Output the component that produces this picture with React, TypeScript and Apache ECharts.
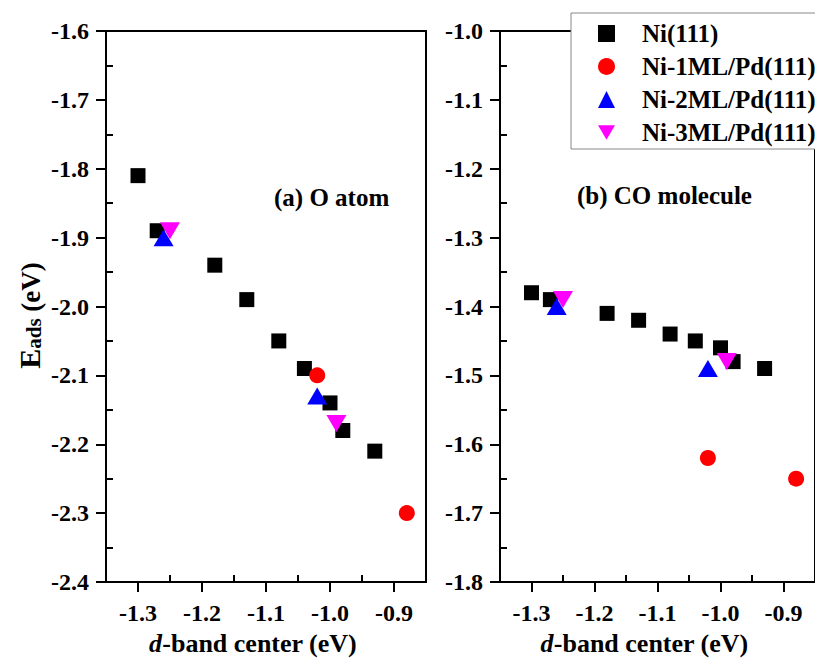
import React, { useEffect, useRef } from 'react';
import * as echarts from 'echarts';

// ---- data ----
const seriesNames = ['Ni(111)', 'Ni-1ML/Pd(111)', 'Ni-2ML/Pd(111)', 'Ni-3ML/Pd(111)'];

const ni111X = [-1.30, -1.27, -1.18, -1.13, -1.08, -1.04, -1.00, -0.98, -0.93];
const ni111O = [-1.81, -1.89, -1.94, -1.99, -2.05, -2.09, -2.14, -2.18, -2.21];
const ni111CO = [-1.38, -1.39, -1.41, -1.42, -1.44, -1.45, -1.46, -1.48, -1.49];

const ml1X = [-1.02, -0.88];
const ml1O = [-2.10, -2.30];
const ml1CO = [-1.62, -1.65];

const ml2X = [-1.26, -1.02];
const ml2O = [-1.90, -2.13];
const ml2CO = [-1.40, -1.49];

const ml3X = [-1.25, -0.99];
const ml3O = [-1.89, -2.17];
const ml3CO = [-1.39, -1.48];

const xTicks = [-1.3, -1.2, -1.1, -1.0, -0.9];
const xMinorTicks = [-1.25, -1.15, -1.05, -0.95];
const yTicksO = [-2.4, -2.3, -2.2, -2.1, -2.0, -1.9, -1.8, -1.7, -1.6];
const yMinorO = [-2.35, -2.25, -2.15, -2.05, -1.95, -1.85, -1.75, -1.65];
const yTicksCO = [-1.8, -1.7, -1.6, -1.5, -1.4, -1.3, -1.2, -1.1, -1.0];
const yMinorCO = [-1.75, -1.65, -1.55, -1.45, -1.35, -1.25, -1.15, -1.05];

const panelLabels = ['(a) O atom', '(b) CO molecule'];

const FONT = 'Liberation Serif';
const zip = (xs: number[], ys: number[]) => xs.map((x, i) => [x, ys[i]]);

const lineStyle = { color: '#000', width: 2 };
const labelStyle = {
  color: '#000',
  fontFamily: FONT,
  fontWeight: 'bold' as const,
  fontSize: 24,
};

function xAxes(grid: number) {
  return [
    {
      type: 'value',
      gridIndex: grid,
      position: 'bottom',
      min: -1.35,
      max: -0.85,
      axisLine: { show: true, onZero: false, lineStyle },
      axisTick: { show: true, inside: false, length: 10, customValues: xTicks, lineStyle },
      axisLabel: {
        show: true,
        customValues: xTicks,
        formatter: (v: number) => v.toFixed(1),
        margin: 19,
        ...labelStyle,
      },
      splitLine: { show: false },
      name: '{i|d}{n|-band center (eV)}',
      nameLocation: 'middle',
      nameGap: 48,
      nameTextStyle: {
        fontFamily: FONT,
        fontWeight: 'bold',
        fontSize: 26,
        padding: [0, 26, 0, 0],
        rich: {
          i: { fontFamily: FONT, fontWeight: 'bold', fontStyle: 'italic', fontSize: 26, color: '#000' },
          n: { fontFamily: FONT, fontWeight: 'bold', fontSize: 26, color: '#000' },
        },
      },
    },
    {
      type: 'value',
      gridIndex: grid,
      position: 'bottom',
      min: -1.35,
      max: -0.85,
      axisLine: { show: false, onZero: false },
      axisTick: { show: true, inside: true, length: 7, customValues: xMinorTicks, lineStyle },
      axisLabel: { show: false },
      splitLine: { show: false },
    },
  ];
}

function yAxes(grid: number, min: number, max: number, ticks: number[], minor: number[], withName: boolean) {
  return [
    {
      type: 'value',
      gridIndex: grid,
      position: 'left',
      min,
      max,
      axisLine: { show: true, onZero: false, lineStyle },
      axisTick: { show: true, inside: false, length: 10, customValues: ticks, lineStyle },
      axisLabel: {
        show: true,
        customValues: ticks,
        formatter: (v: number) => v.toFixed(1),
        margin: 17,
        ...labelStyle,
      },
      splitLine: { show: false },
      ...(withName
        ? {
            name: '{e|E}{s|ads}{n| (eV)}',
            nameLocation: 'middle',
            nameRotate: 90,
            nameGap: 62,
            nameTextStyle: {
              fontFamily: FONT,
              fontWeight: 'bold',
              padding: [0, 18, 0, 0],
              rich: {
                e: { fontFamily: FONT, fontWeight: 'bold', fontSize: 30, lineHeight: 30, verticalAlign: 'bottom', color: '#000' },
                s: { fontFamily: FONT, fontWeight: 'bold', fontSize: 21, lineHeight: 12, verticalAlign: 'bottom', color: '#000' },
                n: { fontFamily: FONT, fontWeight: 'bold', fontSize: 27, lineHeight: 27, verticalAlign: 'bottom', color: '#000' },
              },
            },
          }
        : {}),
    },
    {
      type: 'value',
      gridIndex: grid,
      position: 'left',
      min,
      max,
      axisLine: { show: false, onZero: false },
      axisTick: { show: true, inside: true, length: 7, customValues: minor, lineStyle },
      axisLabel: { show: false },
      splitLine: { show: false },
    },
  ];
}

const styles = [
  { symbol: 'rect', symbolSize: 15 as number | number[], color: '#000000' },
  { symbol: 'circle', symbolSize: 16 as number | number[], color: '#ff0000' },
  { symbol: 'triangle', symbolSize: [20, 17] as number | number[], color: '#0000ff' },
  { symbol: 'path://M0,0 L20,0 L10,17 Z', symbolSize: [20, 17] as number | number[], color: '#ff00ff' },
];

function makeSeries(idx: number, axisBase: number, data: number[][]) {
  const s = styles[idx];
  return {
    type: 'scatter',
    name: seriesNames[idx],
    xAxisIndex: axisBase,
    yAxisIndex: axisBase,
    symbol: s.symbol,
    symbolSize: s.symbolSize,
    itemStyle: { color: s.color, opacity: 1 },
    emphasis: { disabled: true },
    data,
  };
}

export default function App() {
  const ref = useRef<HTMLDivElement>(null);
  useEffect(() => {
    if (!ref.current) return;
    const chart = echarts.init(ref.current, null, { renderer: 'svg' });
    chart.setOption({
      animation: false,
      backgroundColor: '#ffffff',
      textStyle: { fontFamily: FONT },
      grid: [
        { left: 106, top: 31, width: 320, height: 551, show: true, borderColor: '#000', borderWidth: 2, backgroundColor: 'transparent' },
        { left: 500, top: 31, width: 318, height: 551, show: true, borderColor: '#000', borderWidth: 2, backgroundColor: 'transparent' },
      ],
      xAxis: [...xAxes(0), ...xAxes(1)],
      yAxis: [
        ...yAxes(0, -2.4, -1.6, yTicksO, yMinorO, true),
        ...yAxes(1, -1.8, -1.0, yTicksCO, yMinorCO, false),
      ],
      legend: {
        orient: 'vertical',
        left: 571,
        top: 13,
        padding: [8, 40, 4, 27],
        itemGap: 8,
        itemWidth: 17,
        itemHeight: 17,
        backgroundColor: '#ffffff',
        borderColor: '#888888',
        borderWidth: 1,
        borderRadius: 0,
        selectedMode: false,
        textStyle: {
          ...labelStyle,
          fontSize: 25,
          lineHeight: 24,
          padding: [0, 0, 0, 22],
        },
        data: seriesNames,
      },
      graphic: [
        {
          type: 'text',
          x: 274,
          y: 197,
          style: { text: panelLabels[0], fontFamily: FONT, fontWeight: 'bold', fontSize: 25, fill: '#000', verticalAlign: 'middle' },
        },
        {
          type: 'text',
          x: 577,
          y: 195,
          style: { text: panelLabels[1], fontFamily: FONT, fontWeight: 'bold', fontSize: 25, fill: '#000', verticalAlign: 'middle' },
        },
      ],
      series: [
        makeSeries(0, 0, zip(ni111X, ni111O)),
        makeSeries(1, 0, zip(ml1X, ml1O)),
        makeSeries(2, 0, zip(ml2X, ml2O)),
        makeSeries(3, 0, zip(ml3X, ml3O)),
        makeSeries(0, 2, zip(ni111X, ni111CO)),
        makeSeries(1, 2, zip(ml1X, ml1CO)),
        makeSeries(2, 2, zip(ml2X, ml2CO)),
        makeSeries(3, 2, zip(ml3X, ml3CO)),
      ],
    });
    return () => chart.dispose();
  }, []);
  return <div ref={ref} style={{ position: 'absolute', left: 0, top: 0, width: 815, height: 662 }} />;
}
